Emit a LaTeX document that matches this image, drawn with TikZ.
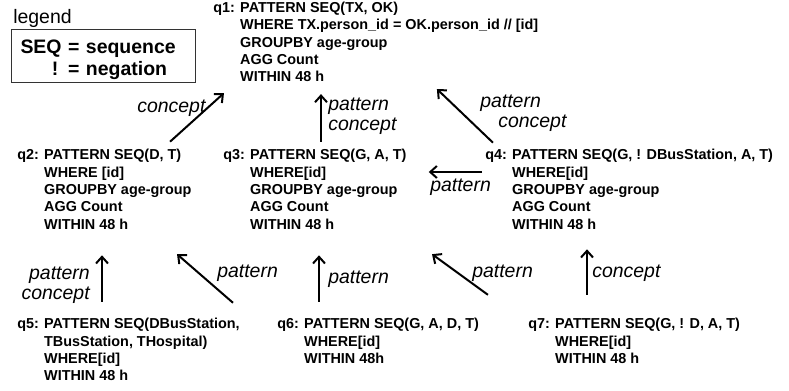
\documentclass[tikz,border=0pt]{standalone}
\usepackage{fontspec}
\setmainfont{Liberation Sans}
\usetikzlibrary{arrows.meta,positioning}

\newcommand{\qfont}{\bfseries\fontsize{10.8}{13}\selectfont}
\newcommand{\lfont}{\fontsize{14.6}{15}\selectfont}

\tikzset{
  query/.style={anchor=base west, inner sep=0pt, font=\qfont},
  rel/.style={anchor=base west, inner sep=0pt, font=\lfont\itshape, align=left},
  flow/.style={line width=1.5pt, -{Straight Barb[length=5pt,width=9pt]}},
}

\begin{document}
\begin{tikzpicture}[x=0.75pt, y=-0.75pt]
\useasboundingbox (0,0) rectangle (789,391);

% Legend
\node[anchor=base west, inner sep=0pt, font=\lfont] (legendtitle) at (13,24) {legend};
\node[draw=black!80, line width=0.75pt, anchor=north west, minimum width=138pt, minimum height=39.75pt,
      inner xsep=6.75pt, text width=124.5pt, align=left, font=\bfseries\fontsize{14.6}{16.5}\selectfont] (legendbox) at (11,29)
  {\raisebox{-3pt}[\height][\depth]{\begin{tabular}{@{}r@{ = }l@{}}SEQ & sequence\\ ! & negation\end{tabular}}};

% Queries
\node[query] (q1) at (213,12.5) {\begin{tabular}[t]{@{}l@{ }l@{}}
  q1: & PATTERN SEQ(TX, OK)\\
      & WHERE TX.person\_id = OK.person\_id // [id]\\
      & GROUPBY age-group\\
      & AGG Count\\
      & WITHIN 48 h\end{tabular}};
\node[query] (q2) at (17,160) {\begin{tabular}[t]{@{}l@{ }l@{}}
  q2: & PATTERN SEQ(D, T)\\
      & WHERE [id]\\
      & GROUPBY age-group\\
      & AGG Count\\
      & WITHIN 48 h\end{tabular}};
\node[query] (q3) at (223,160) {\begin{tabular}[t]{@{}l@{ }l@{}}
  q3: & PATTERN SEQ(G, A, T)\\
      & WHERE[id]\\
      & GROUPBY age-group\\
      & AGG Count\\
      & WITHIN 48 h\end{tabular}};
\node[query] (q4) at (485,160) {\begin{tabular}[t]{@{}l@{ }l@{}}
  q4: & PATTERN SEQ(G, ! DBusStation, A, T)\\
      & WHERE[id]\\
      & GROUPBY age-group\\
      & AGG Count\\
      & WITHIN 48 h\end{tabular}};
\node[query] (q5) at (17,329) {\begin{tabular}[t]{@{}l@{ }l@{}}
  q5: & PATTERN SEQ(DBusStation,\\
      & TBusStation, THospital)\\
      & WHERE[id]\\
      & WITHIN 48 h\end{tabular}};
\node[query] (q6) at (277,329) {\begin{tabular}[t]{@{}l@{ }l@{}}
  q6: & PATTERN SEQ(G, A, D, T)\\
      & WHERE[id]\\
      & WITHIN 48h\end{tabular}};
\node[query] (q7) at (528,329) {\begin{tabular}[t]{@{}l@{ }l@{}}
  q7: & PATTERN SEQ(G, ! D, A, T)\\
      & WHERE[id]\\
      & WITHIN 48 h\end{tabular}};

% Relations into q1
\draw[flow, shorten <=6.6pt, shorten >=6.5pt] (q2.north -| 163.5,0) -- (q1.south -| 230.4,0);
\draw[flow, shorten <=4.4pt, shorten >=5.1pt] (q3.north -| 321,0) -- (q1.south -| 321,0);
\draw[flow, shorten <=5.3pt, shorten >=1.9pt] (q4.north -| 498.1,0) -- (q1.south -| 435.1,0);
\draw[flow] ([xshift=-2.25pt]q4.west |- 0,172) -- ([xshift=16.5pt]q3.east |- 0,172);
\node[rel] (c21) at (137,113) {concept};
\node[rel] (pc31) at (328,131) {pattern\\concept};
\node[rel] (pc41) at (480,128) {pattern\\\hspace*{13.5pt}concept};
\node[rel] (p43) at (430,192) {pattern};

% Relations from the lower row
\draw[flow, shorten <=11.2pt, shorten >=15.4pt] (q5.north -| 102,0) -- (q2.south -| 102,0);
\draw[flow, shorten <=15.8pt, shorten >=22.2pt] (q6.north -| 248.9,0) -- (q2.south -| 154.7,0);
\draw[flow, shorten <=11.2pt, shorten >=15.4pt] (q6.north -| 319,0) -- (q3.south -| 319,0);
\draw[flow, shorten <=27.8pt, shorten >=24.7pt] (q7.north -| 517.9,0) -- (q3.south -| 405.4,0);
\draw[flow, shorten <=16.4pt, shorten >=10.9pt] (q7.north -| 587,0) -- (q4.south -| 587,0);
\node[rel, anchor=base east, align=right] (pc52) at (90,300) {pattern\\concept};
\node[rel] (p62) at (217,278) {pattern};
\node[rel] (p63) at (328,284) {pattern};
\node[rel] (p73) at (472,278) {pattern};
\node[rel] (c74) at (592,278) {concept};
\end{tikzpicture}
\end{document}
